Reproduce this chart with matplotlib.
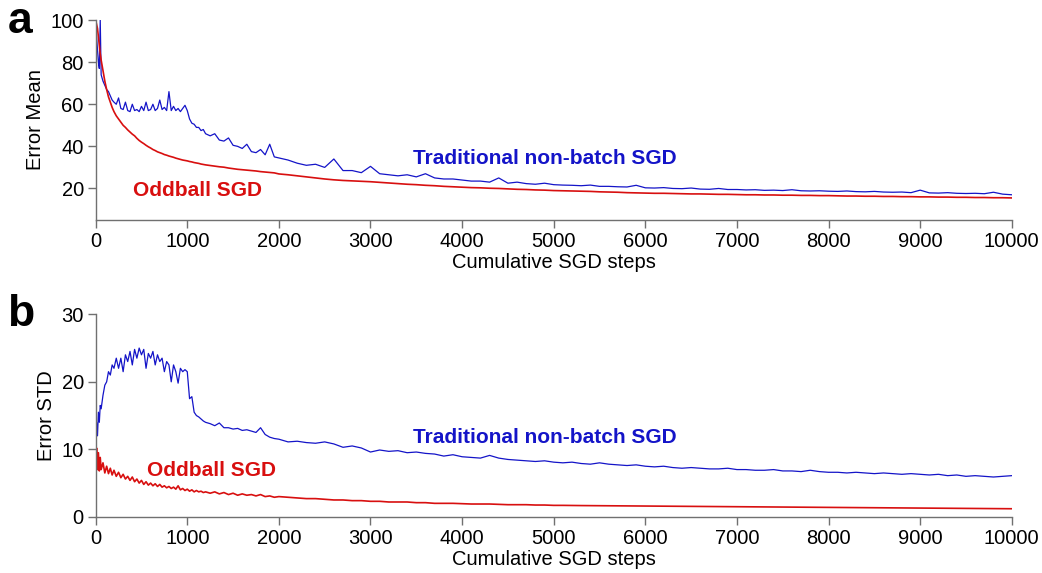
import numpy as np
import matplotlib
matplotlib.use("Agg")
import matplotlib.pyplot as plt

plt.rcParams['font.family'] = ['Liberation Sans', 'DejaVu Sans']

steps = ([0, 10, 20, 30, 40, 50, 60, 80, 100, 120, 140, 160, 180, 200]
         + list(range(225, 1201, 25))
         + list(range(1250, 2001, 50))
         + list(range(2100, 10001, 100)))

# panel a: error mean
mean_trad = [
    100, 92, 86, 80, 77, 100, 74, 71, 69, 67, 66, 64, 62, 61,
    60, 63, 58, 57.5, 61, 57, 56.5, 60, 57, 57.5, 56.5, 59, 57, 61, 57, 57.5,
    60, 57, 58, 62, 57.5, 58.5, 57, 66, 57, 59, 57, 58, 56.5, 58, 59.5, 57,
    53, 51, 50.5, 49, 49, 47.5, 48, 46,
    45, 46, 43, 42.5, 44, 40.5, 40, 39, 41, 37.5, 37, 38.5, 36, 41, 35, 34.5,
    33.5, 32, 31, 31.5, 30, 34, 28.5, 28.5, 27.5,
    30.5, 27, 26.5, 26, 26.5, 25.5, 27, 25, 24.5, 24.5,
    24, 23.5, 23.5, 23, 25, 22.5, 23, 22.3, 22, 22.5,
    21.8, 21.6, 21.5, 21.3, 21.6, 21, 21, 20.8, 20.7, 21.5,
    20.3, 20.2, 20.4, 20, 19.9, 20.2, 19.7, 19.6, 20, 19.5,
    19.5, 19.3, 19.4, 19.1, 19.2, 19.0, 19.4, 18.9, 18.8, 18.9,
    18.7, 18.6, 18.8, 18.5, 18.4, 18.6, 18.3, 18.2, 18.3, 18.0,
    19.2, 17.9, 17.8, 18.0, 17.7, 17.6, 17.7, 17.5, 18.2, 17.3,
    17.0]
mean_odd = [
    100, 98, 96, 92, 88, 84, 81, 76, 71, 67, 63.5, 61, 58.5, 56.5,
    54.5, 53, 51.5, 50, 49, 47.8, 46.8, 45.8, 45, 43.8, 42.8, 42, 41.3, 40.5,
    39.8, 39.2, 38.5, 38, 37.4, 37, 36.6, 36.1, 35.8, 35.4, 35.1, 34.8, 34.4,
    34.1, 33.8, 33.5, 33.3, 33.1, 32.8, 32.6, 32.3, 32.1, 31.9, 31.6, 31.4, 31.2,
    30.9, 30.6, 30.3, 30.1, 29.7, 29.4, 29.1, 28.9, 28.7, 28.5, 28.3, 28.0,
    27.8, 27.6, 27.4, 26.9,
    26.5, 26.0, 25.5, 25.0, 24.5, 24.1, 23.8, 23.6, 23.4,
    23.2, 22.9, 22.6, 22.3, 22.0, 21.8, 21.5, 21.3, 21.0, 20.8,
    20.6, 20.4, 20.3, 20.1, 20.0, 19.8, 19.6, 19.5, 19.3, 19.2,
    19.0, 18.9, 18.8, 18.7, 18.6, 18.4, 18.3, 18.2, 18.0, 17.9,
    17.8, 17.7, 17.7, 17.6, 17.5, 17.4, 17.4, 17.3, 17.2, 17.2,
    17.1, 17.0, 17.0, 16.9, 16.9, 16.8, 16.8, 16.7, 16.7, 16.6,
    16.6, 16.5, 16.4, 16.4, 16.3, 16.3, 16.2, 16.2, 16.1, 16.1,
    16.0, 16.0, 15.9, 15.9, 15.8, 15.8, 15.7, 15.7, 15.6, 15.6,
    15.5]

# panel b: error std
std_trad = [
    11, 14, 12, 15.5, 14, 16.5, 16, 18, 19.5, 20, 21.5, 21, 22.5, 22,
    23.5, 22, 23.5, 21.5, 24, 23, 24.5, 22.5, 24.8, 23.5, 25, 24, 24.8, 22,
    24.2, 23.5, 24.5, 22.5, 24, 23, 23.5, 21.5, 23, 22.5, 20, 22.5, 21.5,
    19.8, 22, 21.5, 21.8, 21.5, 17.5, 17.8, 15.5, 15, 14.8, 14.5, 14.2, 14,
    13.8, 13.5, 13.9, 13.2, 13.2, 13.0, 13.1, 12.8, 12.9, 12.7, 12.5, 13.2,
    12.2, 11.8, 11.6, 11.5,
    11.1, 11.2, 11.0, 10.9, 11.1, 10.8, 10.3, 10.5, 10.2,
    9.6, 9.9, 9.7, 9.8, 9.5, 9.6, 9.4, 9.3, 9.0, 9.2,
    8.9, 8.8, 8.7, 9.1, 8.7, 8.5, 8.4, 8.3, 8.2, 8.3,
    8.1, 8.0, 8.1, 7.9, 7.8, 8.0, 7.8, 7.7, 7.6, 7.7,
    7.5, 7.4, 7.5, 7.3, 7.2, 7.3, 7.2, 7.1, 7.1, 7.2,
    7.0, 7.0, 6.9, 6.9, 7.0, 6.8, 6.8, 6.7, 6.9, 6.7,
    6.6, 6.6, 6.5, 6.6, 6.5, 6.4, 6.5, 6.4, 6.3, 6.4,
    6.3, 6.2, 6.3, 6.1, 6.2, 6.0, 6.1, 6.0, 5.9, 6.0,
    6.1]
std_odd = [
    5, 10.2, 7, 9.5, 6.8, 8.8, 7, 8, 6.5, 7.5, 6.4, 7.2, 6.2, 6.9,
    6.0, 6.6, 5.8, 6.3, 5.6, 6.0, 5.4, 5.9, 5.2, 5.6, 5.0, 5.4, 4.8, 5.2,
    4.7, 5.0, 4.6, 4.9, 4.5, 4.8, 4.4, 4.6, 4.3, 4.5, 4.2, 4.4, 4.1, 4.6,
    4.0, 4.2, 3.9, 4.1, 3.8, 4.0, 3.7, 3.9, 3.7, 3.8, 3.6, 3.7,
    3.5, 3.7, 3.4, 3.6, 3.3, 3.5, 3.2, 3.4, 3.2, 3.3, 3.1, 3.3, 3.0, 3.1,
    2.9, 3.0,
    2.9, 2.8, 2.7, 2.7, 2.6, 2.5, 2.5, 2.4, 2.4,
    2.3, 2.3, 2.2, 2.2, 2.2, 2.1, 2.1, 2.0, 2.0, 2.0,
    1.95, 1.9, 1.9, 1.9, 1.85, 1.8, 1.8, 1.8, 1.75, 1.75,
    1.7, 1.7, 1.68, 1.67, 1.66, 1.65, 1.64, 1.63, 1.62, 1.61,
    1.6, 1.59, 1.58, 1.57, 1.56, 1.55, 1.54, 1.53, 1.52, 1.51,
    1.5, 1.49, 1.48, 1.47, 1.46, 1.45, 1.44, 1.43, 1.42, 1.41,
    1.4, 1.39, 1.38, 1.37, 1.36, 1.35, 1.34, 1.33, 1.32, 1.31,
    1.3, 1.29, 1.28, 1.27, 1.26, 1.25, 1.24, 1.23, 1.22, 1.21,
    1.2]

for s in (mean_trad, mean_odd, std_trad, std_odd):
    assert len(s) == len(steps), len(s)

blue = '#1414c8'
red = '#d80f0f'
spine_col = '#707070'
fs = 14.5

fig = plt.figure(figsize=(10.42, 5.73), dpi=100)
ax_a = fig.add_axes([0.0918, 0.616, 0.8792, 0.349])
ax_b = fig.add_axes([0.0918, 0.098, 0.8792, 0.3535])


def style(ax):
    for side in ('top', 'right'):
        ax.spines[side].set_visible(False)
    for side in ('left', 'bottom'):
        ax.spines[side].set_color(spine_col)
        ax.spines[side].set_linewidth(1.0)
    ax.tick_params(direction='out', length=5.5, width=1, color=spine_col,
                   labelsize=fs, pad=3)
    ax.set_xlim(0, 10000)
    ax.set_xticks(range(0, 10001, 1000))
    ax.set_xlabel('Cumulative SGD steps', fontsize=fs, labelpad=1.5)


# a
ax_a.plot(steps, mean_trad, color=blue, lw=0.9)
ax_a.plot(steps, mean_odd, color=red, lw=1.2)
style(ax_a)
ax_a.set_ylim(5, 100)
ax_a.set_yticks([20, 40, 60, 80, 100])
ax_a.set_ylabel('Error Mean', fontsize=fs, labelpad=4)
ax_a.text(407, 19, 'Oddball SGD', color=red, fontsize=15,
          fontweight='bold', va='center')
ax_a.text(3460, 34.4, 'Traditional non-batch SGD', color=blue,
          fontsize=15, fontweight='bold', va='center')
fig.text(0.007, 0.962, 'a', fontsize=32, fontweight='bold', va='center')

# b
ax_b.plot(steps, std_trad, color=blue, lw=0.9)
ax_b.plot(steps, std_odd, color=red, lw=1.2)
style(ax_b)
ax_b.set_ylim(0, 30)
ax_b.set_yticks([0, 10, 20, 30])
ax_b.set_ylabel('Error STD', fontsize=fs, labelpad=4)
ax_b.text(560, 6.9, 'Oddball SGD', color=red, fontsize=15,
          fontweight='bold', va='center')
ax_b.text(3460, 11.7, 'Traditional non-batch SGD', color=blue,
          fontsize=15, fontweight='bold', va='center')
fig.text(0.007, 0.452, 'b', fontsize=32, fontweight='bold', va='center')

fig.savefig('out.png', dpi=100)
